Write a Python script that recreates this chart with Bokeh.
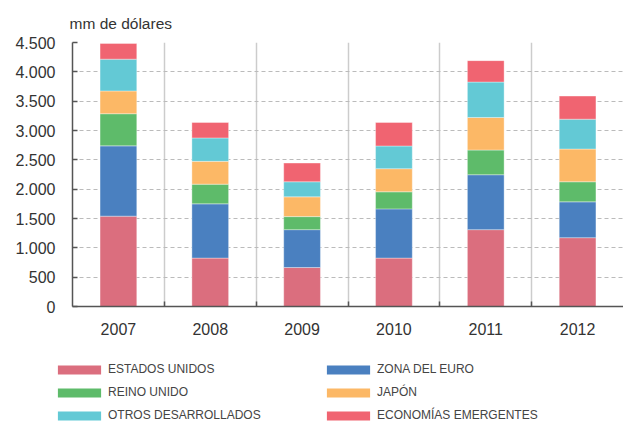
from bokeh.plotting import figure
from bokeh.layouts import column
from bokeh.models import Range1d, FixedTicker, Legend, LegendItem, Title, ColumnDataSource
from bokeh.embed import file_html
from bokeh.resources import INLINE

years = ["2007", "2008", "2009", "2010", "2011", "2012"]
series_names = ["ESTADOS UNIDOS", "ZONA DEL EURO", "REINO UNIDO", "JAPÓN",
                "OTROS DESARROLLADOS", "ECONOMÍAS EMERGENTES"]
estados_unidos = [1540, 825, 664, 825, 1310, 1173]
zona_euro = [1198, 925, 646, 839, 936, 611]
reino_unido = [548, 335, 222, 291, 421, 342]
japon = [388, 389, 337, 394, 555, 558]
otros_desarrollados = [542, 399, 257, 387, 604, 509]
economias_emergentes = [268, 263, 319, 400, 365, 394]
y_ticks = [0, 500, 1000, 1500, 2000, 2500, 3000, 3500, 4000, 4500]
y_tick_labels = ["0", "500", "1.000", "1.500", "2.000", "2.500", "3.000", "3.500", "4.000", "4.500"]
colors = ["#DB6E7E", "#4A80C0", "#5EBB6A", "#FCB866", "#63C9D5", "#F06471"]

keys = ["us", "eu", "uk", "jp", "otros", "emerg"]
n = len(years)
centers = [i + 0.5 for i in range(n)]
src = ColumnDataSource(data=dict(
    x=centers, us=estados_unidos, eu=zona_euro, uk=reino_unido, jp=japon,
    otros=otros_desarrollados, emerg=economias_emergentes))

p = figure(width=623, height=350, x_range=Range1d(0, n), y_range=Range1d(0, 4500),
           output_backend="svg", toolbar_location=None,
           min_border_left=72, min_border_right=0, min_border_top=42, min_border_bottom=44)
p.outline_line_color = None
p.background_fill_color = "white"
p.frame_align = False

renderers = p.vbar_stack(keys, x="x", width=0.4, source=src, fill_color=colors,
                         line_color="white", line_alpha=0.45, line_width=0.8)

# axes
font = "Liberation Sans"
for ax in (p.xaxis[0], p.yaxis[0]):
    ax.axis_line_color = "#555555"
    ax.axis_line_width = 1.5
    ax.major_label_text_font = font
    ax.major_label_text_font_size = "16px"
    ax.major_label_text_color = "#333333"

p.yaxis.ticker = FixedTicker(ticks=y_ticks)
p.yaxis.major_label_overrides = {t: l for t, l in zip(y_ticks, y_tick_labels)}
p.yaxis.major_tick_in = 5
p.yaxis.major_tick_out = 0
p.yaxis.major_tick_line_color = "#555555"
p.yaxis.major_tick_line_width = 1.5
p.yaxis.minor_tick_line_color = None
p.yaxis.major_label_standoff = 17

p.xaxis.ticker = FixedTicker(ticks=centers, minor_ticks=list(range(1, n)))
p.xaxis.major_label_overrides = {c: y for c, y in zip(centers, years)}
p.xaxis.major_tick_in = 0
p.xaxis.major_tick_out = 0
p.xaxis.minor_tick_in = 5
p.xaxis.minor_tick_out = 0
p.xaxis.minor_tick_line_color = "#555555"
p.xaxis.minor_tick_line_width = 1.5
p.xaxis.major_label_standoff = 16

# grids
p.xgrid.ticker = FixedTicker(ticks=list(range(1, n)))
p.xgrid.grid_line_color = "#cccccc"
p.xgrid.grid_line_width = 1.5
p.ygrid.ticker = FixedTicker(ticks=y_ticks)
p.ygrid.grid_line_color = "#bbbbbb"
p.ygrid.grid_line_dash = "4 3"
p.ygrid.grid_line_width = 1

# title
p.title = Title(text="mm de dólares", align="left", offset=-3, text_font_size="15.5px",
                text_font=font, text_font_style="normal", text_color="#333333", standoff=22)

# legend figure (two columns)
lf = figure(width=623, height=73, x_range=Range1d(0, 1), y_range=Range1d(0, 1),
            output_backend="svg", toolbar_location=None,
            x_axis_type=None, y_axis_type=None,
            min_border_left=0, min_border_right=0, min_border_top=0, min_border_bottom=0)
lf.outline_line_color = None
lf.frame_align = False
lf.xgrid.visible = False
lf.ygrid.visible = False
swatch_src = ColumnDataSource(data=dict(x=[-10.0], top=[-10.0]))
dummy = [lf.vbar(x="x", top="top", width=0.1, source=swatch_src,
                 fill_color=c, line_color=None) for c in colors]
items = [LegendItem(label=name, renderers=[r]) for name, r in zip(series_names, dummy)]
for cols, loc in (([0, 2, 4], (52, 1)), ([1, 3, 5], (321, 1))):
    leg = Legend(items=[items[i] for i in cols], location=loc,
                 border_line_color=None, background_fill_alpha=0,
                 padding=0, margin=0, spacing=9,
                 glyph_width=54, glyph_height=11, label_standoff=2, label_height=14,
                 label_text_font=font, label_text_font_size="12px",
                 label_text_color="#444444")
    lf.add_layout(leg, "center")

layout = column(p, lf, spacing=0)
open("out.html", "w").write(file_html(layout, INLINE))
